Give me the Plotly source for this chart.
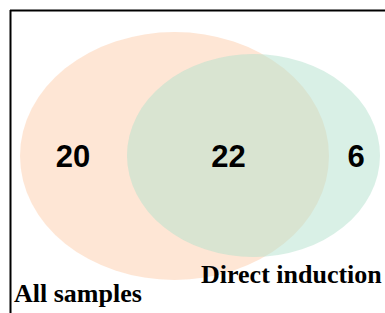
import plotly.graph_objects as go

# ---- data ----
set_names = ["All samples", "Direct induction"]
region_counts = [20, 22, 6]            # only A, A∩B, only B
set_colors = ["#fdcdac", "#b3e2cd"]

# ---- geometry (pixel-like coordinates of the canvas) ----
W, H = 385, 313
ellipses = [  # x0, y0, x1, y1
    (20, 32, 329, 280),
    (127, 54, 380, 257),
]
count_x = [73, 228.5, 356]
count_y = [159.5, 159.5, 159.5]
label_pos = [(12, 293), (199, 274)]

fig = go.Figure()

shapes = []
for (x0, y0, x1, y1), c in zip(ellipses, set_colors):
    shapes.append(dict(type="circle", xref="x", yref="y", x0=x0, y0=y0, x1=x1, y1=y1,
                       fillcolor=c, opacity=0.5, line=dict(width=0), layer="below"))
# frame lines
shapes.append(dict(type="line", xref="x", yref="y", x0=10.5, y0=10, x1=10.5, y1=H,
                   line=dict(color="black", width=2)))
shapes.append(dict(type="line", xref="x", yref="y", x0=10, y0=10.5, x1=W, y1=10.5,
                   line=dict(color="black", width=2)))

fig.add_trace(go.Scatter(
    x=count_x, y=count_y, mode="text",
    text=[str(v) for v in region_counts],
    textfont=dict(family="Liberation Sans, Arial", size=31, color="black", weight="bold"),
    textposition="middle center", hoverinfo="skip", showlegend=False))

annotations = []
for name, (lx, ly) in zip(set_names, label_pos):
    annotations.append(dict(x=lx, y=ly, xref="x", yref="y", text="<b>" + name + "</b>",
                            showarrow=False, xanchor="left", yanchor="middle",
                            font=dict(family="Liberation Serif, Times New Roman", size=26, color="black")))

fig.update_layout(
    width=W, height=H, margin=dict(l=0, r=0, t=0, b=0),
    paper_bgcolor="white", plot_bgcolor="white",
    xaxis=dict(range=[0, W], visible=False, fixedrange=True),
    yaxis=dict(range=[H, 0], visible=False, fixedrange=True),
    shapes=shapes, annotations=annotations, showlegend=False,
)

fig.write_html("out.html", config={"displayModeBar": False},
               post_script="document.body.style.margin='0';document.body.style.overflow='hidden';")
